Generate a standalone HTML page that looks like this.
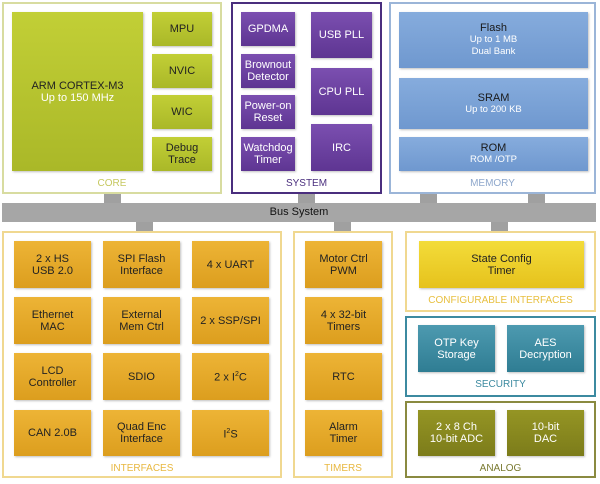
<!DOCTYPE html>
<html><head><meta charset="utf-8"><style>
*{margin:0;padding:0;box-sizing:border-box}
body{width:600px;height:484px;background:#fff;position:relative;overflow:hidden;font-family:"Liberation Sans","DejaVu Sans",sans-serif}
.p{position:absolute;border:2px solid;background:#fff}
.b{position:absolute;display:flex;flex-direction:column;align-items:center;justify-content:center;text-align:center;font-size:11px;line-height:12px;box-shadow:1px 1px 2px rgba(0,0,0,.25)}
.l{position:absolute;font-size:10px;text-align:center}
.g{background:linear-gradient(#c2cf36,#aab828);color:#222}
.pu{background:linear-gradient(#7b4fb0,#5e3592);color:#fff}
.bl{background:linear-gradient(#86acdd,#6f98cf);color:#1a1a1a}
.o{background:linear-gradient(#edb436,#dc9e1e);color:#222}
.y{background:linear-gradient(#f3dc3a,#e6c21c);color:#222}
.t{background:linear-gradient(#4d9ab0,#2f7d93);color:#fff}
.ol{background:linear-gradient(#959524,#7c7c1a);color:#fff}
.c{position:absolute;background:#a0a0a0}
.s{font-size:9.5px}
</style></head><body>
<!-- connectors -->
<div class="c" style="left:104px;top:193px;width:17px;height:12px"></div>
<div class="c" style="left:298px;top:193px;width:17px;height:12px"></div>
<div class="c" style="left:420px;top:193px;width:17px;height:12px"></div>
<div class="c" style="left:528px;top:193px;width:17px;height:12px"></div>
<div class="c" style="left:136px;top:220px;width:17px;height:12px"></div>
<div class="c" style="left:334px;top:220px;width:17px;height:12px"></div>
<div class="c" style="left:491px;top:220px;width:17px;height:12px"></div>
<div style="position:absolute;left:2px;top:203px;width:594px;height:19px;background:#a6a6a6;font-size:11px;color:#111;text-align:center;line-height:19px">Bus System</div>

<!-- core -->
<div class="p" style="left:2px;top:2px;width:220px;height:192px;border-color:#d8dca0"></div>
<div class="b g" style="left:12px;top:12px;width:131px;height:159px;font-size:11px"><div>ARM CORTEX-M3</div><div style="color:#fff">Up to 150 MHz</div></div>
<div class="b g" style="left:152px;top:12px;width:60px;height:34px">MPU</div>
<div class="b g" style="left:152px;top:54px;width:60px;height:34px">NVIC</div>
<div class="b g" style="left:152px;top:95px;width:60px;height:34px">WIC</div>
<div class="b g" style="left:152px;top:137px;width:60px;height:34px">Debug<br>Trace</div>
<div class="l" style="left:2px;top:178px;width:220px;color:#c6c860">CORE</div>

<!-- system -->
<div class="p" style="left:231px;top:2px;width:151px;height:192px;border-color:#4a2e7e"></div>
<div class="b pu" style="left:241px;top:12px;width:54px;height:34px">GPDMA</div>
<div class="b pu" style="left:241px;top:54px;width:54px;height:34px">Brownout<br>Detector</div>
<div class="b pu" style="left:241px;top:95px;width:54px;height:34px">Power-on<br>Reset</div>
<div class="b pu" style="left:241px;top:137px;width:54px;height:34px">Watchdog<br>Timer</div>
<div class="b pu" style="left:311px;top:12px;width:61px;height:46px">USB PLL</div>
<div class="b pu" style="left:311px;top:68px;width:61px;height:47px">CPU PLL</div>
<div class="b pu" style="left:311px;top:124px;width:61px;height:47px">IRC</div>
<div class="l" style="left:231px;top:178px;width:151px;color:#4a2e7e">SYSTEM</div>

<!-- memory -->
<div class="p" style="left:389px;top:2px;width:207px;height:192px;border-color:#9bb5d8"></div>
<div class="b bl" style="left:399px;top:12px;width:189px;height:56px"><div>Flash</div><div class="s" style="color:#fff">Up to 1 MB<br>Dual Bank</div></div>
<div class="b bl" style="left:399px;top:78px;width:189px;height:51px"><div>SRAM</div><div class="s" style="color:#fff">Up to 200 KB</div></div>
<div class="b bl" style="left:399px;top:137px;width:189px;height:34px"><div>ROM</div><div class="s" style="color:#fff">ROM /OTP</div></div>
<div class="l" style="left:389px;top:178px;width:207px;color:#8fa8cc">MEMORY</div>

<!-- interfaces -->
<div class="p" style="left:2px;top:231px;width:280px;height:247px;border-color:#f0d890"></div>
<div class="b o" style="left:14px;top:241px;width:77px;height:47px">2 x HS<br>USB 2.0</div>
<div class="b o" style="left:103px;top:241px;width:77px;height:47px">SPI Flash<br>Interface</div>
<div class="b o" style="left:192px;top:241px;width:77px;height:47px">4 x UART</div>
<div class="b o" style="left:14px;top:297px;width:77px;height:47px">Ethernet<br>MAC</div>
<div class="b o" style="left:103px;top:297px;width:77px;height:47px">External<br>Mem Ctrl</div>
<div class="b o" style="left:192px;top:297px;width:77px;height:47px">2 x SSP/SPI</div>
<div class="b o" style="left:14px;top:353px;width:77px;height:47px">LCD<br>Controller</div>
<div class="b o" style="left:103px;top:353px;width:77px;height:47px">SDIO</div>
<div class="b o" style="left:192px;top:353px;width:77px;height:47px"><span>2 x I<sup style="font-size:7px">2</sup>C</span></div>
<div class="b o" style="left:14px;top:410px;width:77px;height:46px">CAN 2.0B</div>
<div class="b o" style="left:103px;top:410px;width:77px;height:46px">Quad Enc<br>Interface</div>
<div class="b o" style="left:192px;top:410px;width:77px;height:46px"><span>I<sup style="font-size:7px">2</sup>S</span></div>
<div class="l" style="left:2px;top:463px;width:280px;color:#e8b840">INTERFACES</div>

<!-- timers -->
<div class="p" style="left:293px;top:231px;width:100px;height:247px;border-color:#f0d890"></div>
<div class="b o" style="left:305px;top:241px;width:77px;height:47px">Motor Ctrl<br>PWM</div>
<div class="b o" style="left:305px;top:297px;width:77px;height:47px">4 x 32-bit<br>Timers</div>
<div class="b o" style="left:305px;top:353px;width:77px;height:47px">RTC</div>
<div class="b o" style="left:305px;top:410px;width:77px;height:46px">Alarm<br>Timer</div>
<div class="l" style="left:293px;top:463px;width:100px;color:#e8b840">TIMERS</div>

<!-- config -->
<div class="p" style="left:405px;top:231px;width:191px;height:81px;border-color:#f0d890"></div>
<div class="b y" style="left:419px;top:241px;width:165px;height:47px">State Config<br>Timer</div>
<div class="l" style="left:405px;top:295px;width:191px;color:#e8c040">CONFIGURABLE INTERFACES</div>

<!-- security -->
<div class="p" style="left:405px;top:316px;width:191px;height:81px;border-color:#3c8aa0"></div>
<div class="b t" style="left:418px;top:325px;width:77px;height:47px">OTP Key<br>Storage</div>
<div class="b t" style="left:507px;top:325px;width:77px;height:47px">AES<br>Decryption</div>
<div class="l" style="left:405px;top:379px;width:191px;color:#3c8aa0">SECURITY</div>

<!-- analog -->
<div class="p" style="left:405px;top:401px;width:191px;height:77px;border-color:#8a8a40"></div>
<div class="b ol" style="left:418px;top:410px;width:77px;height:46px">2 x 8 Ch<br>10-bit ADC</div>
<div class="b ol" style="left:507px;top:410px;width:77px;height:46px">10-bit<br>DAC</div>
<div class="l" style="left:405px;top:463px;width:191px;color:#7a7a30">ANALOG</div>
</body></html>
